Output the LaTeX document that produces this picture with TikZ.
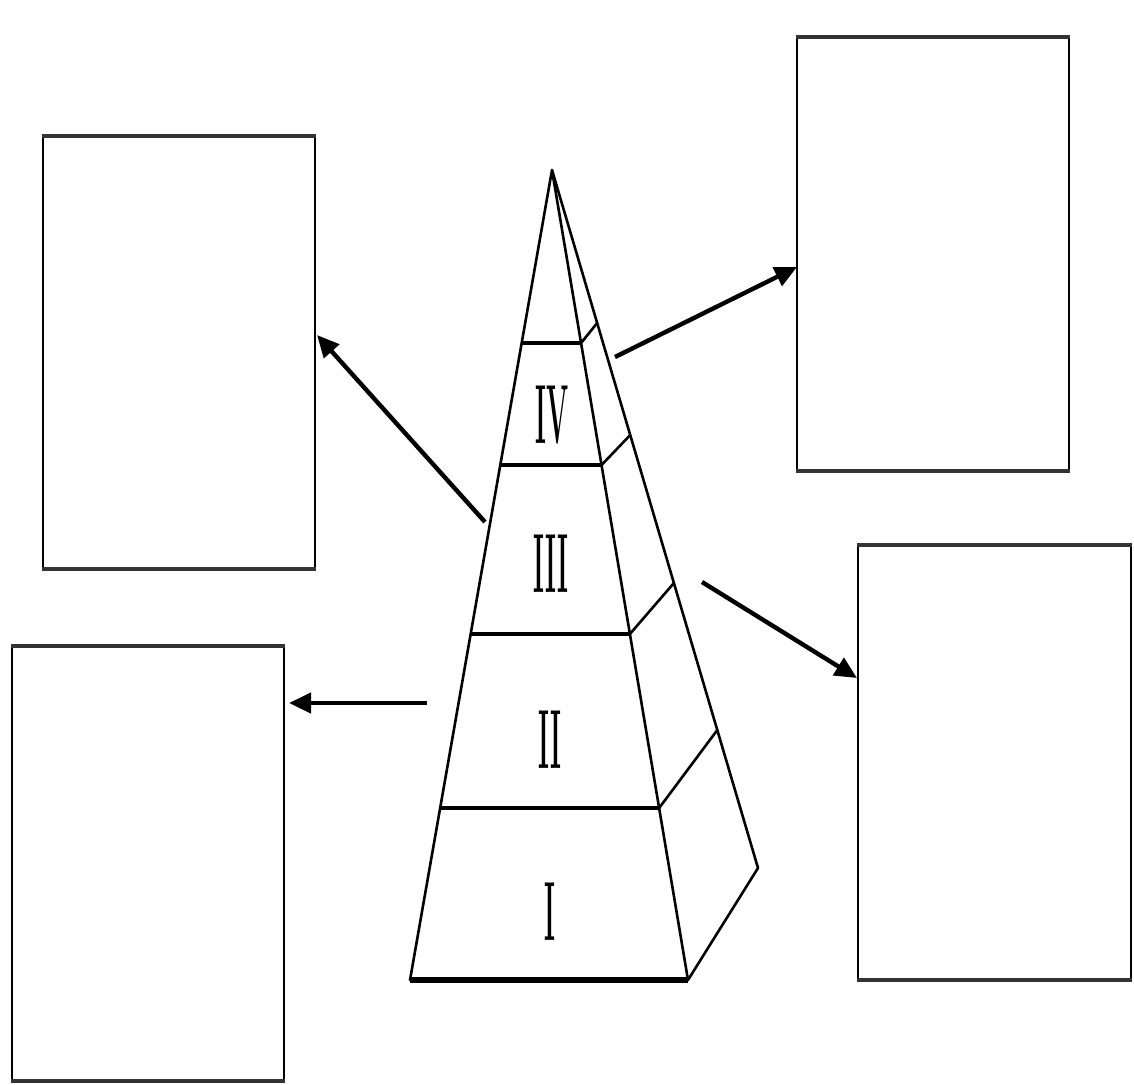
\documentclass[tikz,border=0pt]{standalone}
\usetikzlibrary{calc,arrows.meta}
\begin{document}
\begin{tikzpicture}[x=0.5pt,y=-0.5pt,line join=round,line cap=round,
  frame/.style={draw,line width=0.9pt,inner sep=0pt,minimum width=136pt},
  hline/.style={draw=black!80,line width=2.2pt,line cap=butt},
  edge/.style={draw,line width=1.3pt},
  layer/.style={draw,line width=1.8pt,line cap=butt},
  arr/.style={draw,line width=2.2pt,line cap=butt,-{Triangle[length=11pt,width=10pt]}},
  numeral/.style={font=\fontsize{42}{42}\selectfont\bfseries,xscale=0.31,inner sep=0pt}]
\useasboundingbox (0,0) rectangle (1134,1084);
\fill[white] (0,0) rectangle (1134,1084);

% boxes
\node[frame,minimum height=215.5pt] (bx1) at (179,352.5) {};
\node[frame,minimum height=216.5pt] (bx2) at (148,863.5) {};
\node[frame,minimum height=216pt] (bx3) at (933,254) {};
\node[frame,minimum height=216.5pt,minimum width=136.5pt] (bx4) at (994.5,762.5) {};
\foreach \b in {bx1,bx2,bx3,bx4}{
  \draw[hline] (\b.north west) -- (\b.north east);
  \draw[hline] (\b.south west) -- (\b.south east);
}

% pyramid
\coordinate (apex) at (552,170);
\coordinate (bl) at (410,980);
\coordinate (br) at (688,980);
\coordinate (bk) at (758,868);
\draw[edge] (bl) -- (apex) -- (br);
\draw[edge] (apex) -- (bk) -- (br);
\draw[hline,line width=2.6pt,draw=black] (bl) -- (br);

\foreach \n/\t/\s in {a/0.2136/0.2192, b/0.3642/0.3797, c/0.5728/0.5917, d/0.7877/0.8023}{
  \coordinate (L\n) at ($(apex)!\t!(bl)$);
  \coordinate (R\n) at ($(apex)!\t!(br)$);
  \coordinate (K\n) at ($(apex)!\s!(bk)$);
}
\foreach \n in {a,b,c,d}{
  \draw[layer] (L\n) -- (R\n);
  \draw[edge] (R\n) -- (K\n);
}

% labels
\node[numeral] (n4) at (552,415) {IV};
\node[numeral] (n3) at (551,564) {III};
\node[numeral] (n2) at (550,740) {II};
\node[numeral] (n1) at (550,912) {I};

% arrows
\coordinate (t1) at (485,522); \coordinate (h1) at (317,335);
\coordinate (t2) at (615,357); \coordinate (h2) at (797,267);
\coordinate (t3) at (702,582); \coordinate (h3) at (857,678);
\coordinate (t4) at (427,703); \coordinate (h4) at (289,703);
\draw[arr] (t1) -- (h1);
\draw[arr] (t2) -- (h2);
\draw[arr] (t3) -- (h3);
\draw[arr] (t4) -- (h4);
\end{tikzpicture}
\end{document}
